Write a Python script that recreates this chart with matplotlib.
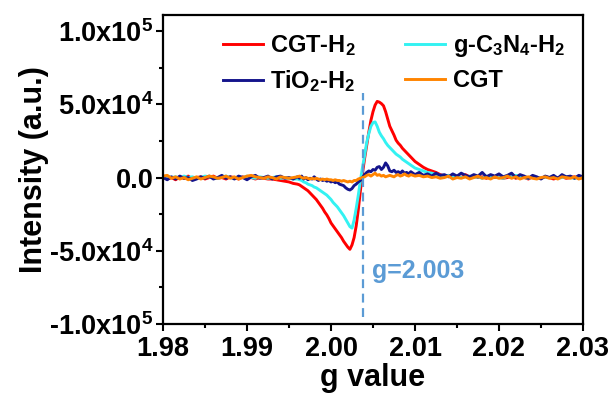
import numpy as np
import matplotlib
matplotlib.use("Agg")
import matplotlib.pyplot as plt
from matplotlib.ticker import MultipleLocator, FixedLocator

plt.rcParams['font.family'] = ['Liberation Sans', 'DejaVu Sans']
plt.rcParams['font.weight'] = 'bold'
plt.rcParams['mathtext.fontset'] = 'custom'
plt.rcParams['mathtext.rm'] = 'Liberation Sans:bold'
plt.rcParams['mathtext.it'] = 'Liberation Sans:bold'
plt.rcParams['mathtext.bf'] = 'Liberation Sans:bold'
plt.rcParams['mathtext.default'] = 'rm'

# g axis: coarse on the wings, finer across the resonance
g = np.round(np.concatenate([
    np.linspace(1.9800, 1.9955, 32),
    np.linspace(1.9960, 2.00975, 56),
    np.linspace(2.0100, 2.0300, 41),
]), 5)

# intensities in units of 1e4
cgt_h2 = [
    0.1, -0.1, 0.0, -0.15, 0.05, -0.05, 0.1, -0.1, 0.0, 0.05, -0.1, 0.0, 0.1, -0.05, 0.0, -0.1,
    0.05, 0.0, -0.1, 0.05, -0.05, 0.0, -0.1, 0.0, -0.05, -0.1, -0.1, -0.15, -0.2, -0.25, -0.3, -0.4,
    -0.45, -0.5, -0.6, -0.7, -0.8, -0.9, -1.05, -1.2, -1.35, -1.5, -1.7, -1.9, -2.1, -2.35, -2.55, -2.8,
    -3.1, -3.3, -3.5, -3.7, -3.9, -4.1, -4.35, -4.55, -4.75, -4.9, -4.6, -4.1, -3.3, -2.2, -0.9, 0.3,
    1.3, 2.2, 3.1, 3.9, 4.5, 4.95, 5.2, 5.15, 5.05, 4.9, 4.5, 4.0, 3.5, 3.2, 2.9, 2.55,
    2.35, 2.2, 2.0, 1.85, 1.7, 1.55, 1.4, 1.25,
    1.1, 0.9, 0.7, 0.55, 0.45, 0.35, 0.2, 0.1, 0.15, 0.05, 0.1, 0.0, 0.2, 0.05, 0.1, 0.0,
    0.05, -0.05, 0.1, 0.0, 0.05, -0.05, 0.0, 0.1, -0.05, 0.05, 0.0, -0.1, 0.05, 0.0, -0.05, 0.05,
    0.0, -0.1, 0.0, 0.05, -0.05, 0.0, 0.05, -0.05, 0.0,
]
gcn_h2 = [
    0.05, 0.1, 0.0, 0.05, -0.05, 0.1, 0.0, 0.05, -0.05, 0.0, 0.1, 0.05, 0.0, -0.05, 0.05, 0.1,
    0.0, -0.05, 0.05, 0.0, 0.1, 0.0, -0.05, 0.05, 0.0, -0.05, 0.0, 0.05, -0.05, 0.0, -0.05, -0.1,
    -0.1, -0.15, -0.2, -0.3, -0.35, -0.45, -0.5, -0.55, -0.65, -0.7, -0.8, -0.9, -1.0, -1.1, -1.2, -1.35,
    -1.5, -1.7, -1.85, -2.0, -2.2, -2.4, -2.6, -2.85, -3.1, -3.35, -3.45, -2.9, -2.1, -1.2, -0.2, 0.7,
    1.5, 2.4, 3.0, 3.5, 3.75, 3.8, 3.5, 3.1, 2.85, 2.65, 2.4, 2.2, 2.05, 1.9, 1.75, 1.6,
    1.5, 1.4, 1.25, 1.15, 1.05, 0.95, 0.85, 0.75,
    0.65, 0.55, 0.45, 0.35, 0.3, 0.2, 0.15, 0.1, 0.15, 0.05, 0.1, 0.0, 0.05, 0.1, 0.0, 0.05,
    -0.05, 0.1, 0.0, 0.05, 0.0, -0.05, 0.1, 0.05, 0.15, 0.05, 0.0, -0.05, 0.05, 0.0, -0.05, 0.05,
    0.0, 0.05, -0.05, 0.0, 0.05, 0.0, -0.05, 0.05, 0.0,
]
tio2_h2 = [
    0.0, -0.15, 0.05, -0.1, 0.1, -0.05, 0.0, -0.2, -0.1, 0.05, -0.05, 0.1, -0.1, 0.0, 0.15, -0.05,
    0.05, -0.1, 0.1, 0.0, -0.15, 0.05, 0.15, -0.05, 0.0, 0.1, -0.1, 0.05, 0.1, -0.05, 0.0, -0.1,
    0.05, -0.05, 0.1, -0.1, 0.0, -0.15, -0.05, -0.1, 0.05, -0.1, -0.2, -0.1, -0.2, -0.15, -0.25, -0.2,
    -0.3, -0.25, -0.35, -0.3, -0.45, -0.5, -0.55, -0.7, -0.8, -0.85, -0.75, -0.55, -0.45, -0.3, -0.2, 0.0,
    0.2, 0.35, 0.45, 0.4, 0.55, 0.5, 0.7, 0.75, 0.55, 0.7, 1.0, 0.8, 0.45, 0.4, 0.5, 0.35,
    0.4, 0.3, 0.45, 0.3, 0.35, 0.25, 0.4, 0.3,
    0.2, 0.35, 0.15, 0.25, 0.1, 0.3, 0.15, 0.2, 0.05, 0.25, 0.1, 0.3, 0.15, 0.05, 0.2, 0.1,
    0.35, 0.05, 0.2, 0.1, 0.25, 0.05, 0.15, 0.3, 0.0, 0.2, 0.1, -0.05, 0.15, 0.05, -0.1, 0.1,
    0.0, 0.15, -0.05, 0.2, 0.05, 0.1, -0.05, 0.15, 0.05,
]
cgt = [
    0.1, 0.15, -0.05, 0.05, -0.1, 0.0, -0.15, -0.05, 0.05, -0.1, 0.0, 0.1, 0.05, -0.05, 0.0, 0.1,
    -0.05, 0.05, -0.1, 0.0, 0.1, 0.15, 0.05, 0.0, -0.05, 0.05, 0.0, -0.1, 0.05, 0.0, -0.05, 0.0,
    0.05, 0.1, 0.0, -0.05, 0.0, -0.05, -0.1, -0.05, -0.1, -0.05, -0.1, -0.15, -0.1, -0.15, -0.1, -0.15,
    -0.15, -0.2, -0.15, -0.2, -0.2, -0.25, -0.2, -0.25, -0.3, -0.25, -0.3, -0.2, -0.2, -0.1, -0.05, 0.0,
    0.05, 0.15, 0.2, 0.1, 0.2, 0.3, 0.15, 0.2, 0.1, 0.15, 0.05, 0.1, 0.15, 0.1, 0.05, 0.15,
    0.2, 0.1, 0.15, 0.25, 0.15, 0.1, 0.2, 0.15,
    0.1, 0.15, 0.05, 0.1, 0.0, 0.05, -0.05, 0.0, 0.1, -0.1, 0.0, -0.05, 0.05, -0.1, 0.0, 0.1,
    -0.05, 0.0, -0.1, 0.05, -0.05, 0.0, 0.1, -0.05, 0.05, -0.1, 0.0, 0.05, -0.05, -0.1, 0.0, 0.05,
    -0.05, 0.0, -0.1, 0.05, 0.0, -0.05, 0.05, -0.1, 0.0,
]

labels = ['CGT-H$_2$', 'g-C$_3$N$_4$-H$_2$', 'TiO$_2$-H$_2$', 'CGT']
colors = ['#ff0000', '#33f2f2', '#14148c', '#ff8400']
g_center = 2.0038

yticks = [-1e5, -5e4, 0, 5e4, 1e5]
ytick_labels = ['-1.0x10$^5$', '-5.0x10$^4$', '0.0', '5.0x10$^4$', '1.0x10$^5$']
xticks = [1.98, 1.99, 2.00, 2.01, 2.02, 2.03]
xtick_labels = ['1.98', '1.99', '2.00', '2.01', '2.02', '2.03']

fig = plt.figure(figsize=(6.14, 4.01), dpi=100)
ax = fig.add_axes([0.2655, 0.192, 0.684, 0.7706])

lines = []
for y, lab, c in zip([cgt_h2, gcn_h2, tio2_h2, cgt], labels, colors):
    ln, = ax.plot(g, np.array(y) * 1e4, color=c, lw=2.1, label=lab)
    lines.append(ln)

ax.plot([g_center, g_center], [-0.95e5, 0.58e5], color='#5b9bd5', lw=1.6, ls=(0, (4, 2.5)))
ax.text(g_center + 0.0011, -0.64e5, 'g=2.003', color='#5b9bd5', fontsize=18,
        fontweight='bold', va='center', ha='left')

ax.set_xlim(1.98, 2.03)
ax.set_ylim(-1e5, 1.11e5)
ax.set_xticks(xticks)
ax.set_xticklabels(xtick_labels)
ax.xaxis.set_minor_locator(MultipleLocator(0.005))
ax.yaxis.set_major_locator(FixedLocator(yticks))
ax.set_yticklabels(ytick_labels)
ax.yaxis.set_minor_locator(MultipleLocator(2.5e4))

ax.tick_params(which='both', direction='out', width=1.5, labelsize=19.5, top=False, right=False)
ax.tick_params(which='major', length=5)
ax.tick_params(which='minor', length=3)
ax.tick_params(axis='y', pad=2)
for s in ax.spines.values():
    s.set_linewidth(1.6)

ax.set_xlabel('g value', fontsize=22, fontweight='bold', labelpad=1)
ax.set_ylabel('Intensity (a.u.)', fontsize=22, fontweight='bold', labelpad=0)

ax.legend([lines[0], lines[2], lines[1], lines[3]],
          [labels[0], labels[2], labels[1], labels[3]],
          ncol=2, frameon=False, fontsize=17, loc='upper left',
          bbox_to_anchor=(0.12, 0.972), handlelength=1.7, handletextpad=0.3,
          columnspacing=2.1, labelspacing=0.42, borderaxespad=0.0)

fig.savefig('out.png', dpi=100)
